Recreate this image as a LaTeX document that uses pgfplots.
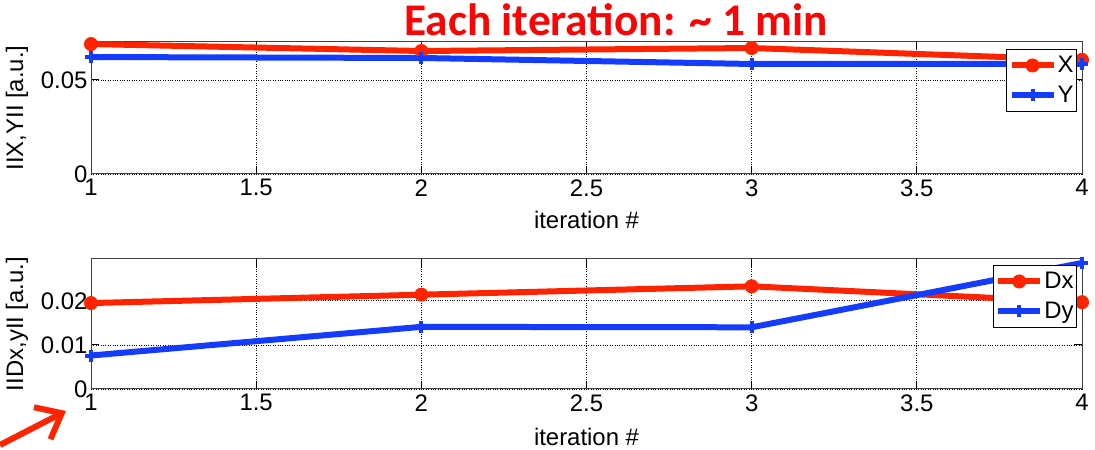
\documentclass[border=0pt]{standalone}
\usepackage{pgfplots}
\pgfplotsset{compat=1.18}
\usepackage{fontspec}
\setmainfont{Liberation Sans}
\newfontfamily\titlefont{Carlito}
\usetikzlibrary{arrows.meta}
\definecolor{mred}{RGB}{255,35,0}
\definecolor{mblue}{RGB}{20,60,255}
\definecolor{notered}{RGB}{250,5,5}

\pgfplotsset{
  mstyle/.style={
    scale only axis, width=991bp,
    xmin=1, xmax=4, xtick={1,1.5,...,4},
    clip=false,
    grid=major, grid style={dotted, black, line width=0.8bp},
    axis line style={black!75, line width=1bp},
    tick style={black, line width=1bp},
    major tick length=8bp,
    tick align=inside,
    scaled y ticks=false,
    tick label style={font=\fontsize{24}{28}\selectfont},
    label style={font=\fontsize{24}{28}\selectfont},
    /pgf/number format/assume math mode=true,
    xticklabel style={/pgf/number format/fixed, yshift=-2bp},
    yticklabel style={/pgf/number format/fixed, /pgf/number format/precision=2},
    xlabel={iteration \#},
    xlabel style={at={(axis description cs:0.5,0)}, yshift=-46bp, anchor=center},
    ylabel style={at={(axis description cs:-0.0747,0.5)}, anchor=center},
    legend cell align=left,
    legend style={draw=black, line width=1bp, font=\fontsize{24}{28}\selectfont,
      inner xsep=2bp, inner ysep=6bp, row sep=10bp, anchor=north east,
      nodes={inner sep=1bp}},
    legend image code/.code={%
      \draw[mark repeat=2, mark phase=2] plot coordinates {(0bp,0bp)(21bp,0bp)(42bp,0bp)};},
  },
  xser/.style={mred, line width=6bp, mark=*, mark size=6bp,
    mark options={solid, line width=2bp}},
  yser/.style={mblue, line width=6bp, mark=+, mark size=6bp,
    mark options={solid, line width=4bp}},
}

\begin{document}
\begin{tikzpicture}[x=1bp, y=1bp]
\clip (0,0) rectangle (1095,450);
\path[use as bounding box] (0,0) rectangle (1095,450);

% Norms of X and Y per iteration
\begin{axis}[mstyle, height=132bp, at={(91bp,276bp)}, anchor=south west,
    ymin=0, ymax=0.0702, ytick={0,0.05},
    ylabel={IIX,YII [a.u.]},
    legend style={at={(axis description cs:1,1)}, xshift=-5bp, yshift=-7bp}]
  \addplot[xser] coordinates {(1,0.0691) (2,0.0654) (3,0.0670) (4,0.0607)};
  \addlegendentry{X}
  \addplot[yser] coordinates {(1,0.0622) (2,0.0617) (3,0.0585) (4,0.0585)};
  \addlegendentry{Y}
\end{axis}

% Norms of Dx and Dy per iteration
\begin{axis}[mstyle, height=130bp, at={(91bp,61bp)}, anchor=south west,
    ymin=0, ymax=0.0295, ytick={0,0.01,0.02},
    ylabel={IIDx,yII [a.u.]},
    xlabel style={yshift=-2bp},
    legend style={at={(axis description cs:1,1)}, xshift=-5bp, yshift=-6bp}]
  \addplot[xser] coordinates {(1,0.0195) (2,0.0214) (3,0.0233) (4,0.0197)};
  \addlegendentry{Dx}
  \addplot[yser] coordinates {(1,0.0076) (2,0.0141) (3,0.0140) (4,0.0286)};
  \addlegendentry{Dy}
\end{axis}

\node[anchor=base, text=notered, inner sep=0pt] at (616,414)
  {\titlefont\bfseries\fontsize{45.5}{50}\selectfont Each iteration: \textasciitilde\ 1 min};

\draw[mred, line width=6bp, -{Straight Barb[length=22bp, width=36bp]}] (0,5) -- (66,39);
\end{tikzpicture}
\end{document}
